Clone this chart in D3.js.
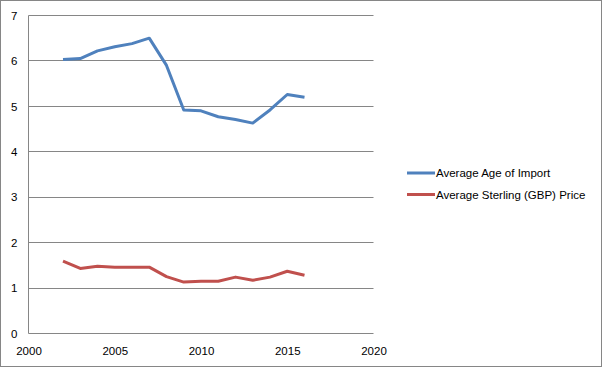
<!DOCTYPE html>
<html><head><meta charset="utf-8">
<script src="https://cdn.jsdelivr.net/npm/d3@7"></script>
<style>body{margin:0;background:#fff}svg{display:block}</style>
</head><body>
<script>
const years = [2002,2003,2004,2005,2006,2007,2008,2009,2010,2011,2012,2013,2014,2015,2016];
const ageOfImport = [6.02,6.04,6.21,6.30,6.37,6.49,5.89,4.91,4.89,4.76,4.70,4.62,4.91,5.25,5.19];
const sterlingPrice = [1.58,1.42,1.47,1.45,1.45,1.45,1.24,1.12,1.14,1.14,1.23,1.16,1.23,1.36,1.27];
const seriesNames = ["Average Age of Import","Average Sterling (GBP) Price"];
const seriesColors = ["#4F81BD","#C0504D"];
const xTicks = [2000,2005,2010,2015,2020];
const yTicks = [0,1,2,3,4,5,6,7];

const W=603,H=368;
const svg=d3.select("body").append("svg").attr("width",W).attr("height",H);
svg.append("rect").attr("x",0.5).attr("y",0.5).attr("width",W-2).attr("height",H-2)
  .attr("fill","#fff").attr("stroke","#868686");
const x=d3.scaleLinear().domain([2000,2020]).range([28.5,373.5]);
const y=d3.scaleLinear().domain([0,7]).range([333,15]);
const font="Liberation Sans, Arial, sans-serif";

// gridlines
svg.append("g").selectAll("line").data(yTicks).join("line")
  .attr("x1",x(2000)).attr("x2",x(2020))
  .attr("y1",d=>Math.round(y(d))+0.5).attr("y2",d=>Math.round(y(d))+0.5)
  .attr("stroke","#868686").attr("stroke-width",1);
// left axis line
svg.append("line").attr("x1",28.5).attr("x2",28.5).attr("y1",Math.round(y(7))+0.5).attr("y2",Math.round(y(0))+0.5)
  .attr("stroke","#868686");

const yAxis=d3.axisLeft(y).tickValues(yTicks).tickSize(0).tickPadding(11).tickFormat(d3.format("d"));
const gy=svg.append("g").attr("transform","translate(28.5,0.5)").call(yAxis);
gy.select(".domain").remove();
gy.selectAll("text").attr("font-family",font).attr("font-size",11.5).attr("fill","#000");

const xAxis=d3.axisBottom(x).tickValues(xTicks).tickSize(0).tickPadding(13).tickFormat(d3.format("d"));
const gx=svg.append("g").attr("transform","translate(0,333.5)").call(xAxis);
gx.select(".domain").remove();
gx.selectAll("text").attr("font-family",font).attr("font-size",11.5).attr("fill","#000");

const line=d3.line().x((d,i)=>x(years[i])).y(d=>y(d));
[ageOfImport,sterlingPrice].forEach((s,k)=>{
  svg.append("path").attr("d",line(s)).attr("fill","none")
    .attr("stroke",seriesColors[k]).attr("stroke-width",3).attr("stroke-linejoin","round").attr("stroke-linecap","butt");
});

// legend
const lg=svg.append("g");
seriesNames.forEach((n,k)=>{
  const ly=173+k*21.5;
  lg.append("line").attr("x1",407).attr("x2",435).attr("y1",ly).attr("y2",ly)
    .attr("stroke",seriesColors[k]).attr("stroke-width",3);
  lg.append("text").attr("x",436).attr("y",ly+4).attr("font-family",font).attr("font-size",11.5)
    .attr("fill","#000").text(n);
});
</script>
</body></html>
